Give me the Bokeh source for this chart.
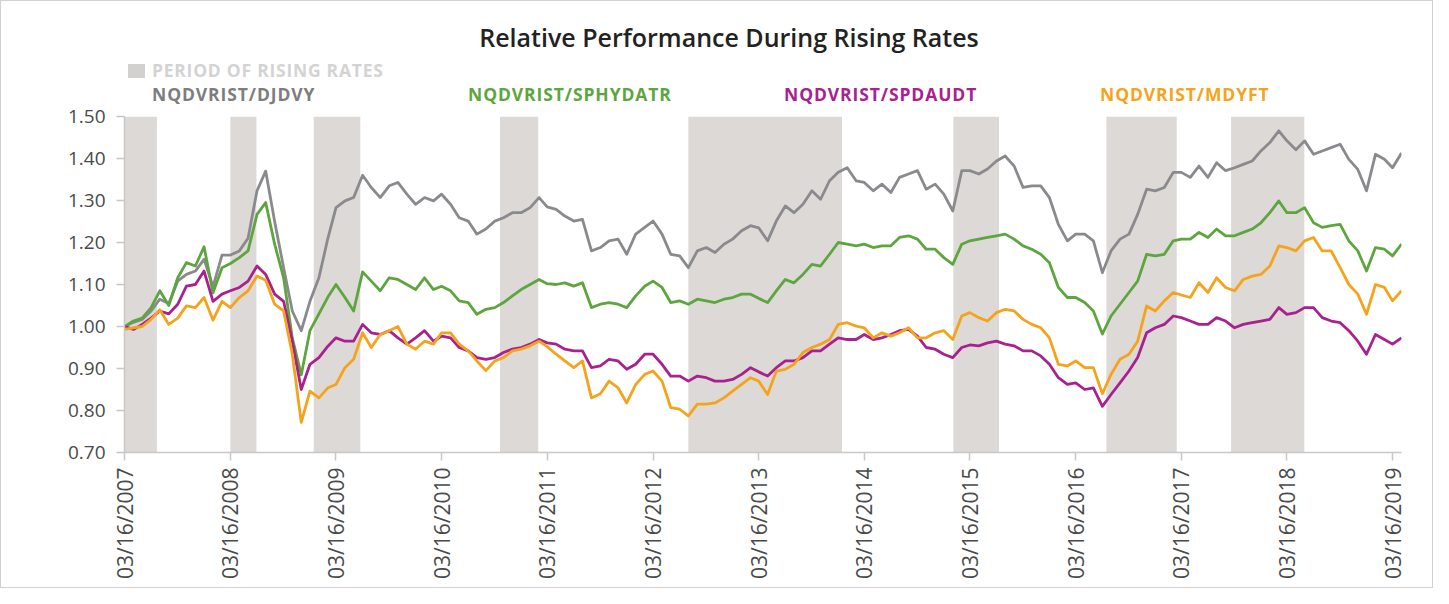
import math
import pandas as pd
from bokeh.plotting import figure
from bokeh.layouts import column
from bokeh.models import FixedTicker, DatetimeTickFormatter, NumeralTickFormatter, Range1d, Div
from bokeh.embed import file_html
from bokeh.resources import INLINE

# ---------------- data (monthly samples from 03/16/2007) -------------
start_date = "2007-03-16"
n_points = 146
dates = pd.date_range(start_date, periods=n_points, freq=pd.DateOffset(months=1))

djdvy = [1.00, 1.01, 1.017, 1.037, 1.065, 1.055, 1.108, 1.124, 1.132, 1.16,
         1.095, 1.17, 1.17, 1.18, 1.21, 1.323, 1.37, 1.25, 1.14, 1.037,
         0.99, 1.06, 1.116, 1.21, 1.283, 1.299, 1.307, 1.36, 1.331, 1.307,
         1.335, 1.343, 1.315, 1.291, 1.307, 1.299, 1.315, 1.291, 1.259, 1.251,
         1.22, 1.232, 1.251, 1.259, 1.271, 1.271, 1.283, 1.307, 1.285, 1.279,
         1.263, 1.251, 1.255, 1.18, 1.188, 1.204, 1.208, 1.172, 1.22, 1.236,
         1.251, 1.22, 1.172, 1.168, 1.14, 1.18, 1.188, 1.176, 1.196, 1.208,
         1.228, 1.24, 1.235, 1.204, 1.251, 1.287, 1.271, 1.291, 1.323, 1.303,
         1.347, 1.367, 1.378, 1.347, 1.343, 1.323, 1.339, 1.319, 1.355, 1.363,
         1.371, 1.327, 1.339, 1.315, 1.275, 1.371, 1.371, 1.363, 1.375, 1.394,
         1.406, 1.382, 1.331, 1.335, 1.335, 1.307, 1.243, 1.204, 1.22, 1.22,
         1.204, 1.128, 1.18, 1.208, 1.22, 1.267, 1.327, 1.323, 1.331, 1.367,
         1.367, 1.355, 1.382, 1.355, 1.39, 1.371, 1.378, 1.386, 1.394, 1.418,
         1.438, 1.466, 1.442, 1.421, 1.442, 1.41, 1.418, 1.426, 1.434, 1.398,
         1.374, 1.323, 1.41, 1.398, 1.378, 1.413]

sphydatr = [1.00, 1.013, 1.02, 1.045, 1.085, 1.05, 1.116, 1.152, 1.144, 1.19,
            1.08, 1.14, 1.15, 1.164, 1.18, 1.267, 1.295, 1.196, 1.116, 0.973,
            0.885, 0.99, 1.03, 1.07, 1.10, 1.069, 1.037, 1.13, 1.108, 1.085,
            1.116, 1.112, 1.10, 1.088, 1.116, 1.088, 1.096, 1.085, 1.061, 1.057,
            1.029, 1.041, 1.045, 1.057, 1.073, 1.088, 1.10, 1.112, 1.102, 1.10,
            1.104, 1.096, 1.104, 1.045, 1.053, 1.057, 1.053, 1.045, 1.073, 1.096,
            1.108, 1.093, 1.057, 1.061, 1.053, 1.065, 1.061, 1.057, 1.065, 1.069,
            1.077, 1.077, 1.067, 1.057, 1.085, 1.112, 1.104, 1.124, 1.148, 1.144,
            1.172, 1.20, 1.196, 1.192, 1.196, 1.188, 1.192, 1.192, 1.212, 1.216,
            1.208, 1.184, 1.184, 1.164, 1.148, 1.196, 1.204, 1.208, 1.212, 1.216,
            1.22, 1.208, 1.192, 1.184, 1.172, 1.152, 1.093, 1.069, 1.069, 1.057,
            1.037, 0.982, 1.025, 1.053, 1.081, 1.108, 1.172, 1.168, 1.172, 1.204,
            1.208, 1.208, 1.224, 1.212, 1.232, 1.216, 1.216, 1.224, 1.232, 1.247,
            1.271, 1.299, 1.271, 1.271, 1.283, 1.247, 1.236, 1.24, 1.243, 1.204,
            1.18, 1.132, 1.188, 1.184, 1.168, 1.196]

spdaudt = [1.00, 0.993, 1.005, 1.02, 1.037, 1.03, 1.053, 1.096, 1.10, 1.132,
           1.06, 1.077, 1.085, 1.093, 1.108, 1.144, 1.124, 1.077, 1.06, 0.965,
           0.85, 0.91, 0.926, 0.953, 0.973, 0.965, 0.965, 1.005, 0.985, 0.981,
           0.99, 0.973, 0.958, 0.973, 0.99, 0.965, 0.977, 0.973, 0.95, 0.942,
           0.926, 0.922, 0.926, 0.938, 0.946, 0.95, 0.958, 0.969, 0.961, 0.958,
           0.946, 0.942, 0.942, 0.902, 0.906, 0.922, 0.918, 0.898, 0.91, 0.934,
           0.934, 0.91, 0.882, 0.882, 0.87, 0.882, 0.878, 0.87, 0.87, 0.874,
           0.886, 0.902, 0.892, 0.882, 0.902, 0.918, 0.918, 0.926, 0.942, 0.942,
           0.958, 0.973, 0.969, 0.969, 0.981, 0.969, 0.973, 0.981, 0.99, 0.993,
           0.977, 0.95, 0.946, 0.934, 0.926, 0.95, 0.956, 0.954, 0.961, 0.965,
           0.958, 0.954, 0.942, 0.942, 0.93, 0.91, 0.878, 0.862, 0.866, 0.85,
           0.854, 0.81, 0.838, 0.866, 0.894, 0.926, 0.985, 0.997, 1.005, 1.025,
           1.021, 1.013, 1.005, 1.005, 1.021, 1.013, 0.997, 1.005, 1.009, 1.013,
           1.017, 1.045, 1.029, 1.033, 1.045, 1.045, 1.021, 1.013, 1.009, 0.99,
           0.965, 0.934, 0.981, 0.969, 0.958, 0.973]

mdyft = [0.993, 0.997, 1.0, 1.017, 1.04, 1.005, 1.02, 1.049, 1.045, 1.069,
         1.015, 1.06, 1.045, 1.069, 1.085, 1.12, 1.11, 1.053, 1.037, 0.934,
         0.772, 0.846, 0.83, 0.854, 0.862, 0.902, 0.922, 0.985, 0.95, 0.981,
         0.99, 1.0, 0.958, 0.946, 0.965, 0.958, 0.985, 0.985, 0.958, 0.942,
         0.918, 0.895, 0.918, 0.926, 0.942, 0.946, 0.954, 0.965, 0.952, 0.934,
         0.918, 0.902, 0.918, 0.83, 0.84, 0.87, 0.854, 0.818, 0.862, 0.886,
         0.894, 0.87, 0.807, 0.803, 0.787, 0.815, 0.815, 0.818, 0.83, 0.846,
         0.862, 0.878, 0.87, 0.838, 0.894, 0.898, 0.91, 0.938, 0.95, 0.958,
         0.969, 1.005, 1.009, 1.001, 0.997, 0.973, 0.985, 0.977, 0.985, 0.997,
         0.973, 0.973, 0.985, 0.99, 0.969, 1.025, 1.033, 1.021, 1.013, 1.033,
         1.041, 1.037, 1.017, 1.005, 0.997, 0.973, 0.91, 0.906, 0.918, 0.902,
         0.902, 0.84, 0.886, 0.922, 0.934, 0.965, 1.049, 1.037, 1.061, 1.081,
         1.075, 1.069, 1.104, 1.081, 1.116, 1.093, 1.085, 1.112, 1.12, 1.124,
         1.144, 1.192, 1.188, 1.18, 1.204, 1.212, 1.18, 1.18, 1.14, 1.10,
         1.077, 1.029, 1.10, 1.093, 1.061, 1.085]

period_starts = ["2007-03-16", "2008-03-16", "2008-12-29", "2010-10-04", "2012-07-16",
                 "2015-01-18", "2016-06-30", "2017-09-04"]
period_ends = ["2007-07-06", "2008-06-14", "2009-06-08", "2011-02-13", "2013-12-29",
               "2015-06-25", "2017-02-28", "2018-05-15"]

tick_dates = ["03/16/2007", "03/16/2008", "03/16/2009", "03/16/2010", "03/16/2011",
              "03/16/2012", "03/16/2013", "03/16/2014", "03/16/2015", "03/16/2016",
              "03/16/2017", "03/16/2018", "03/16/2019"]
y_ticks = [0.70, 0.80, 0.90, 1.00, 1.10, 1.20, 1.30, 1.40, 1.50]

series_names = ["NQDVRIST/DJDVY", "NQDVRIST/SPHYDATR", "NQDVRIST/SPDAUDT", "NQDVRIST/MDYFT"]
series_colors = ["#8a8a8e", "#5da53e", "#a8218f", "#f6a31c"]
legend_text_colors = ["#7d7d80", "#5da53e", "#a8218f", "#f6a31c"]
period_label = "PERIOD OF RISING RATES"
title_text = "Relative Performance During Rising Rates"

# ---------------- header (title + legend) ----------------
TOTAL_W = 1433
TOTAL_H = 588
HEADER_H = 102
legend_left = [152, 468, 784, 1100]

base = "position:absolute;white-space:nowrap;line-height:1;"
spans = []
spans.append(
    f'<span style="{base}left:729px;top:37px;transform:translate(-50%,-50%);'
    f'font-family:\'Open Sans\';font-weight:600;font-size:25px;color:#222;">'
    f'{title_text}</span>')
spans.append('<span style="position:absolute;left:128px;top:64px;width:17px;height:14px;'
             'background:#d3d1cf;"></span>')
spans.append(
    f'<span style="{base}left:152px;top:71px;transform:translateY(-50%);letter-spacing:0.75px;'
    f'font-family:\'Open Sans\';font-weight:bold;font-size:17.5px;color:#d3d3d3;">'
    f'{period_label}</span>')
for name, col, lx in zip(series_names, legend_text_colors, legend_left):
    spans.append(
        f'<span style="{base}left:{lx}px;top:95px;transform:translateY(-50%);letter-spacing:0.9px;'
        f'font-family:\'Open Sans\';font-weight:bold;font-size:17.5px;color:{col};">'
        f'{name}</span>')
header = Div(text='<div style="position:relative;width:%dpx;height:%dpx;overflow:visible;">%s</div>'
             % (TOTAL_W, HEADER_H, "".join(spans)),
             width=TOTAL_W, height=HEADER_H, margin=0,
             styles={"overflow": "visible", "z-index": "2"})

# ---------------- figure ----------------
x_start = pd.Timestamp(start_date)
x_end = dates[-1]

FRAME_L, FRAME_R, FRAME_T, FRAME_B = 124, 1401, 116, 452
p = figure(width=TOTAL_W, height=TOTAL_H - HEADER_H, x_axis_type="datetime",
           x_range=Range1d(x_start, x_end), y_range=Range1d(0.70, 1.50),
           output_backend="svg", toolbar_location=None, margin=0,
           min_border_left=FRAME_L, min_border_right=TOTAL_W - FRAME_R,
           min_border_top=FRAME_T - HEADER_H,
           min_border_bottom=TOTAL_H - FRAME_B)
p.outline_line_color = None
p.border_fill_color = None
p.background_fill_color = "white"
p.xgrid.visible = False
p.ygrid.visible = False

# rising-rate periods
p.quad(left=pd.to_datetime(period_starts), right=pd.to_datetime(period_ends),
       bottom=0.70, top=1.50, fill_color="#dcd9d6", line_color=None)

# series
for vals, col in zip([djdvy, sphydatr, spdaudt, mdyft], series_colors):
    p.line(dates, vals, line_color=col, line_width=2.8, line_join="round")

# axes
tick_ms = [pd.to_datetime(t, format="%m/%d/%Y").value / 1e6 for t in tick_dates]
p.xaxis.ticker = FixedTicker(ticks=tick_ms)
fmt = "%m/%d/%Y"
p.xaxis.formatter = DatetimeTickFormatter(days=fmt, months=fmt, years=fmt, hours=fmt,
                                          minutes=fmt, seconds=fmt, milliseconds=fmt,
                                          hourmin=fmt, minsec=fmt)
p.xaxis.major_label_orientation = math.pi / 2
p.yaxis.ticker = FixedTicker(ticks=y_ticks)
p.yaxis.formatter = NumeralTickFormatter(format="0.00")
for ax in (p.xaxis, p.yaxis):
    ax.axis_line_color = "#c8c8c8"
    ax.axis_line_width = 1.5
    ax.major_tick_line_color = "#c8c8c8"
    ax.major_tick_line_width = 1.5
    ax.major_tick_in = 0
    ax.major_tick_out = 8
    ax.minor_tick_line_color = None
    ax.major_label_text_font = "Open Sans"
    ax.major_label_text_color = "#4a4a4a"
p.yaxis.major_label_text_font_size = "19px"
p.xaxis.major_label_text_font_size = "21px"
p.xaxis.major_label_standoff = 7
p.yaxis.major_label_standoff = 11

layout = column(header, p, width=TOTAL_W, spacing=0,
                styles={"outline": "1px solid #d2d2d2", "outline-offset": "-1px"})
open("out.html", "w").write(file_html(layout, INLINE))
